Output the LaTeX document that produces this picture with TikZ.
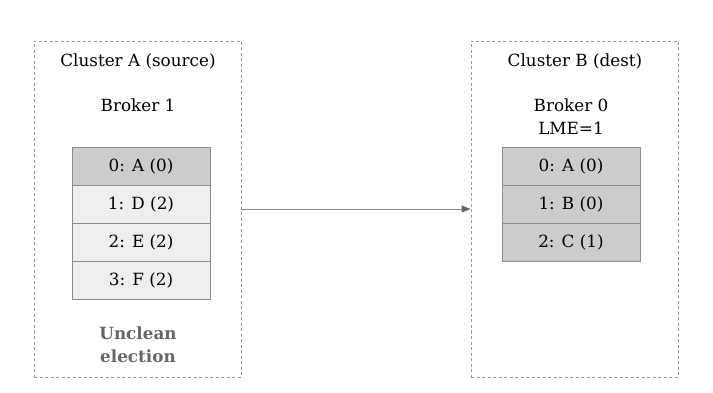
\documentclass[tikz,border=0pt]{standalone}
\usepackage{fontspec}
\setmainfont{DejaVu Serif}
\usetikzlibrary{arrows.meta}
\definecolor{boxgray}{HTML}{999999}
\definecolor{rowline}{HTML}{8C8C8C}
\definecolor{darkrow}{HTML}{CCCCCC}
\definecolor{lightrow}{HTML}{EEEEEE}
\definecolor{notegray}{HTML}{666666}
\definecolor{arrowgray}{HTML}{888888}
\tikzset{every picture/.style={line width=0.75pt}}
\tikzset{
cluster/.style={draw=boxgray,dash pattern=on 3pt off 2.5pt,minimum width=207pt,minimum height=336pt,inner sep=0pt},
rowdark/.style={draw=rowline,fill=darkrow,minimum width=138pt,minimum height=38pt,inner sep=0pt,font=\fontsize{16.8}{20}\selectfont},
rowlight/.style={rowdark,fill=lightrow},
lbl/.style={font=\fontsize{16.8}{23}\selectfont,align=center,inner sep=0pt}}

\begin{document}
\begin{tikzpicture}[x=1pt,y=-1pt]
  \useasboundingbox (0,0) rectangle (713,393);
  \node[cluster] (clA) at (137.5,209) {};
  \node[cluster] (clB) at (574.5,209) {};

  \node[lbl] (titleA) at (138,61) {Cluster A (source)};
  \node[lbl] (brokA) at (138,105) {Broker 1};
  \node[lbl] (titleB) at (575,61) {Cluster B (dest)};
  \node[lbl] (brokB) at (571,116.5) {Broker 0\\LME=1};

  \node[rowdark] (a0) at (141,166) {0: A (0)};
  \node[rowlight] (a1) at (141,204) {1: D (2)};
  \node[rowlight] (a2) at (141,242) {2: E (2)};
  \node[rowlight] (a3) at (141,280) {3: F (2)};

  \node[rowdark] (b0) at (571,166) {0: A (0)};
  \node[rowdark] (b1) at (571,204) {1: B (0)};
  \node[rowdark] (b2) at (571,242) {2: C (1)};

  \node[lbl,font=\fontsize{16.8}{23}\selectfont\bfseries,text=notegray] (note) at (138,344.5) {Unclean\\election};

  \draw[arrowgray,-{Triangle[length=9pt,width=7pt,color=notegray]}] (clA.east) -- (clB.west);
\end{tikzpicture}
\end{document}
